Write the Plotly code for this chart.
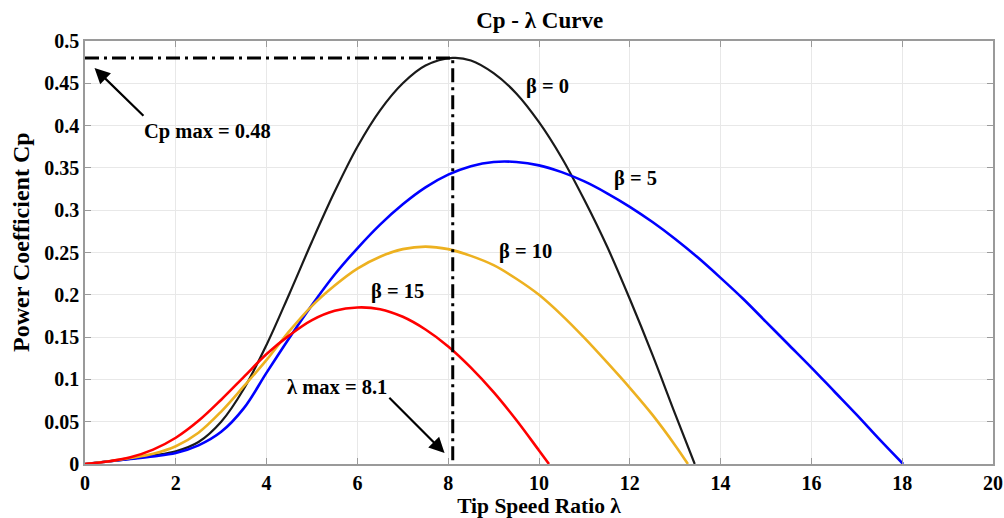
import plotly.graph_objects as go

# Tip speed ratio (lambda) and power coefficient (Cp) for each pitch angle beta
lam_b0 = [0, 0.5, 1, 1.5, 2, 2.5, 3, 3.5, 4, 4.5, 5, 5.5, 6, 6.5, 7, 7.5,
          8.1, 8.5, 9, 9.5, 10, 10.5, 11, 11.5, 12, 12.5, 13, 13.43]
cp_b0 = [0, 0.003, 0.006, 0.010, 0.015, 0.026, 0.050, 0.089, 0.141, 0.201,
         0.263, 0.322, 0.375, 0.418, 0.450, 0.471, 0.480, 0.477, 0.462, 0.438,
         0.404, 0.362, 0.312, 0.257, 0.195, 0.129, 0.059, 0]

lam_b5 = [0, 0.5, 1, 1.5, 2, 2.5, 3, 3.5, 4, 4.5, 5, 5.5, 6, 6.5, 7, 7.5, 8,
          8.5, 9, 9.5, 10, 10.5, 11, 11.5, 12, 12.5, 13, 13.5, 14, 14.5, 15,
          15.5, 16, 16.5, 17, 17.5, 18.02]
cp_b5 = [0, 0.003, 0.006, 0.009, 0.013, 0.022, 0.038, 0.066, 0.108, 0.149,
         0.188, 0.224, 0.255, 0.283, 0.307, 0.327, 0.342, 0.352, 0.357, 0.357,
         0.353, 0.345, 0.334, 0.320, 0.304, 0.286, 0.266, 0.244, 0.220, 0.195,
         0.168, 0.141, 0.114, 0.086, 0.058, 0.029, 0]

lam_b10 = [0, 0.5, 1, 1.5, 2, 2.5, 3, 3.5, 4, 4.5, 5, 5.5, 6, 6.5, 7, 7.5, 8,
           8.5, 9, 9.5, 10, 10.5, 11, 11.5, 12, 12.5, 13, 13.28]
cp_b10 = [0, 0.003, 0.007, 0.012, 0.021, 0.037, 0.062, 0.092, 0.123, 0.157,
          0.187, 0.211, 0.231, 0.245, 0.254, 0.257, 0.254, 0.246, 0.235, 0.219,
          0.200, 0.176, 0.149, 0.120, 0.090, 0.058, 0.022, 0]

lam_b15 = [0, 0.5, 1, 1.5, 2, 2.5, 3, 3.5, 4, 4.5, 5, 5.5, 6, 6.5, 7, 7.5, 8,
           8.5, 9, 9.5, 10, 10.22]
cp_b15 = [0, 0.003, 0.008, 0.017, 0.031, 0.051, 0.076, 0.103, 0.130, 0.152,
          0.170, 0.181, 0.185, 0.183, 0.174, 0.159, 0.139, 0.114, 0.085, 0.052,
          0.016, 0]

# Optimum operating point
cp_max = 0.48
lam_max = 8.1

FONT = "Liberation Serif, Times New Roman, serif"
GRID = "#e8e8e8"
AXIS = "#9a9a9a"

fig = go.Figure()

curves = [
    (lam_b0, cp_b0, "#1a1a1a", 2.2, "β = 0"),
    (lam_b5, cp_b5, "#0000ff", 2.6, "β = 5"),
    (lam_b10, cp_b10, "#edb120", 2.6, "β = 10"),
    (lam_b15, cp_b15, "#ff0000", 2.6, "β = 15"),
]
for x, y, color, width, name in curves:
    fig.add_trace(go.Scatter(
        x=x, y=y, mode="lines", name=name,
        line=dict(color=color, width=width, shape="spline", smoothing=1.0),
        hoverinfo="x+y",
    ))

# Dash-dot guide to the maximum power point
fig.add_trace(go.Scatter(
    x=[0, lam_max, lam_max], y=[cp_max, cp_max, 0], mode="lines",
    line=dict(color="black", width=3, dash="14px,5px,3px,5px"),
    hoverinfo="skip",
))

label_font = dict(family=FONT, size=20.5, color="black", weight="bold")

annotations = [
    dict(x=10.19, y=0.446, text="β = 0"),
    dict(x=12.13, y=0.337, text="β = 5"),
    dict(x=9.71, y=0.251, text="β = 10"),
    dict(x=6.88, y=0.204, text="β = 15"),
    dict(x=2.70, y=0.393, text=f"Cp max = {cp_max}"),
    dict(x=5.54, y=0.091, text=f"λ max = {lam_max}"),
]
for a in annotations:
    fig.add_annotation(xref="x", yref="y", showarrow=False, font=label_font,
                       xanchor="center", yanchor="middle", **a)

# Arrows pointing at the maximum values
for head, tail in [((0.21, 0.468), (1.32, 0.410)), ((7.92, 0.013), (6.67, 0.080))]:
    fig.add_annotation(
        x=head[0], y=head[1], ax=tail[0], ay=tail[1],
        xref="x", yref="y", axref="x", ayref="y", text="",
        showarrow=True, arrowhead=2, arrowsize=1.4, arrowwidth=2.2,
        arrowcolor="black", standoff=0, startstandoff=0,
    )

# Y-axis title, placed beside the tick labels
fig.add_annotation(
    xref="paper", yref="paper", x=0, y=0.525, xshift=-64,
    text="Power Coefficient Cp", textangle=-90, showarrow=False,
    xanchor="center", yanchor="middle",
    font=dict(family=FONT, size=24, color="black", weight="bold"),
)

axis_common = dict(
    showgrid=True, gridcolor=GRID, gridwidth=1,
    showline=True, linecolor=AXIS, linewidth=1.5, mirror="allticks",
    ticks="inside", ticklen=6, tickcolor=AXIS, tickwidth=1,
    zeroline=False, automargin=False,
    tickfont=dict(family=FONT, size=20, color="black", weight="bold"),
)

fig.update_layout(
    width=1004, height=518,
    margin=dict(l=85, r=11, t=41, b=54),
    paper_bgcolor="white", plot_bgcolor="white",
    showlegend=False,
    title=dict(text="Cp - λ Curve", x=0.5375, xanchor="center",
               y=1 - 20 / 518, yanchor="middle", yref="container",
               font=dict(family=FONT, size=23, color="black", weight="bold")),
    xaxis=dict(range=[0, 20], dtick=2, tick0=0,
               title=dict(text="Tip Speed Ratio λ", standoff=3,
                          font=dict(family=FONT, size=21.5, color="black",
                                    weight="bold")),
               **axis_common),
    yaxis=dict(range=[0, 0.5], dtick=0.05, tick0=0, **axis_common),
)

fig.write_html("out.html", config={"displayModeBar": False})
